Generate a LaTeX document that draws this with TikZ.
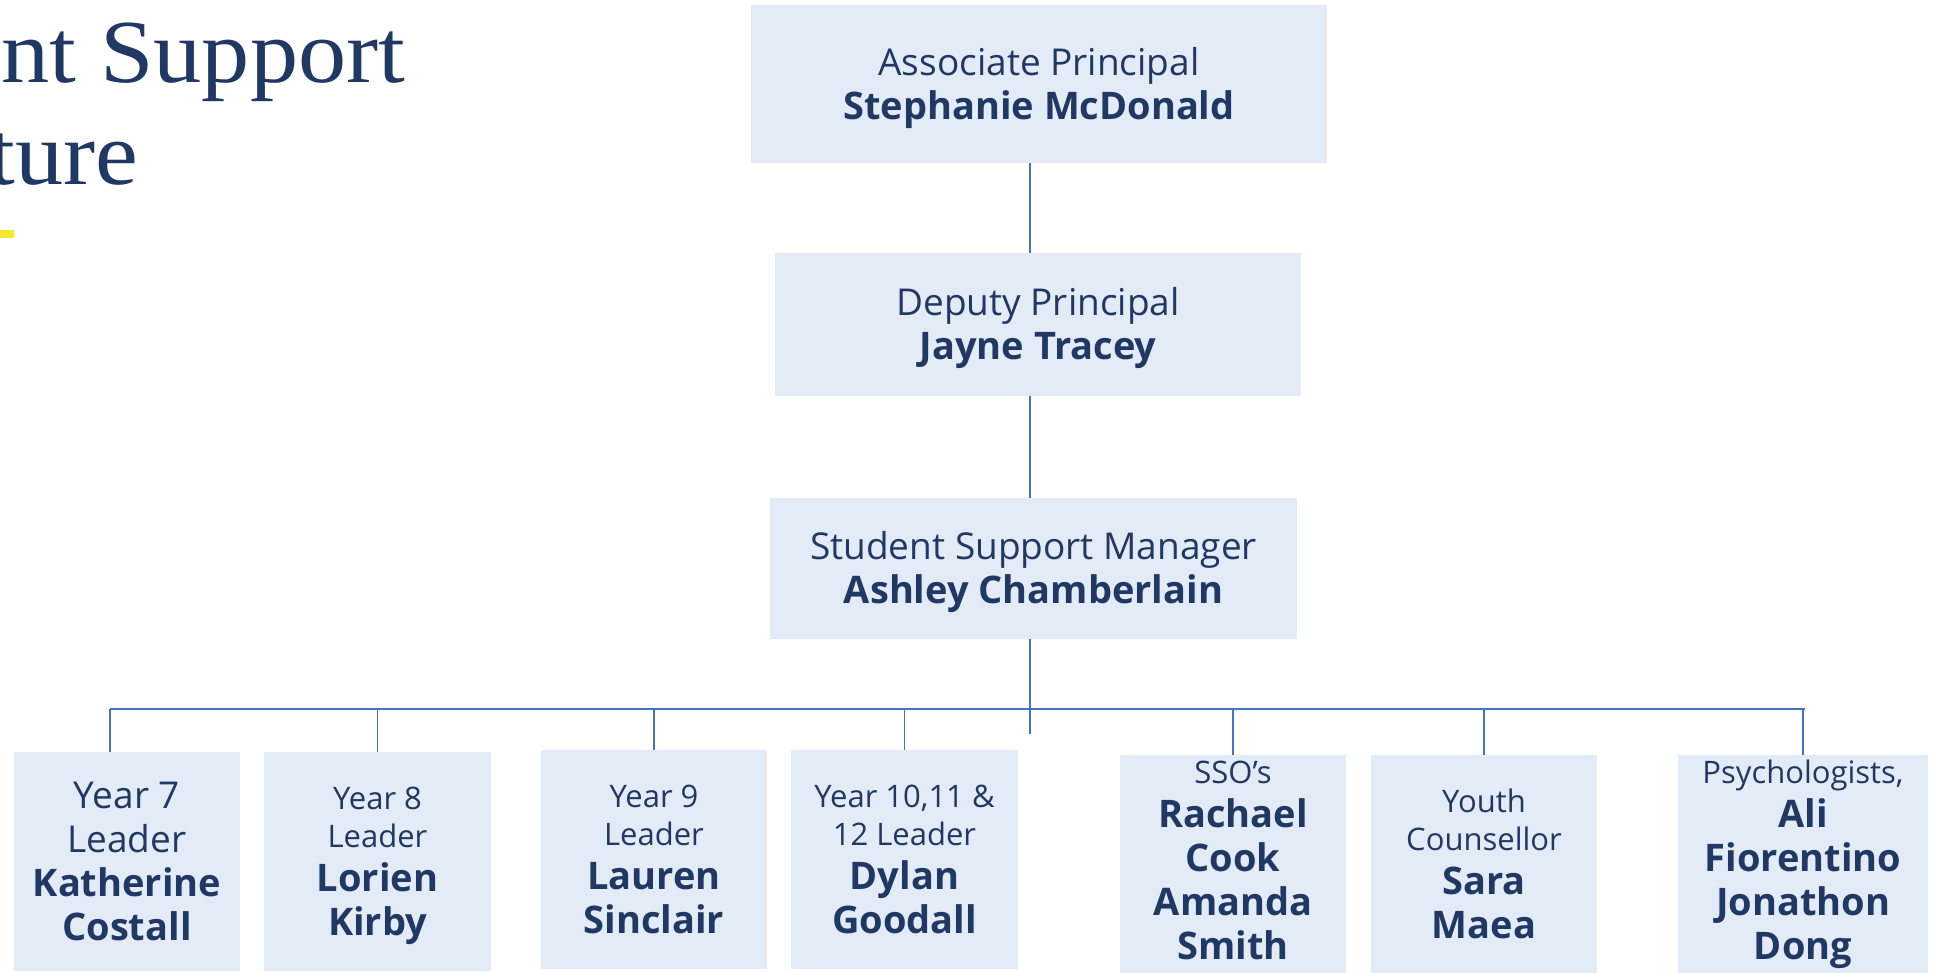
\documentclass[tikz,border=0pt]{standalone}
\usepackage{fontspec}
\setmainfont{Open Sans}
\newfontfamily\titlefont[FakeStretch=1.07]{Liberation Serif}
\usetikzlibrary{positioning}

\definecolor{navy}{HTML}{203864}
\definecolor{boxblue}{HTML}{E3EBF6}
\definecolor{linkblue}{HTML}{4472C4}
\definecolor{bar}{HTML}{F5E62E}

\newcommand{\rolebig}{\fontsize{18.5}{22}\selectfont}
\newcommand{\rolesmall}{\fontsize{15.5}{22}\selectfont}
\newcommand{\who}[1]{{\bfseries\fontsize{19}{22}\selectfont #1}}
\newcommand{\lift}[1]{\rule{0pt}{#1}}
\newcommand{\sink}[1]{\rule[-#1]{0pt}{0pt}}

\tikzset{
  post/.style={rectangle,fill=boxblue,text=navy,align=center,inner sep=0pt},
  link/.style={draw=linkblue,line width=0.75pt},
  heading/.style={anchor=base west,inner sep=0pt,text=navy,font=\titlefont\fontsize{45}{50}\selectfont}
}

\begin{document}
\begin{tikzpicture}[x=0.5pt,y=-0.5pt]
\useasboundingbox (0,0) rectangle (1934,973);
% title, cut at the left edge
\node[heading] (t1) at (1,83) {nt Support};
\node[heading] (t2) at (-12,185) {ture};
\fill[bar] (0,230) rectangle (14,238);
% top of the tree
\node[post,minimum width=288pt,minimum height=79pt,font=\rolebig] (ap) at (1039,84) {\lift{17.6pt}Associate Principal\\\who{Stephanie McDonald}};
\node[post,minimum width=263pt,minimum height=71.5pt,font=\rolebig] (dp) at (1038,324.5) {\lift{17.6pt}Deputy Principal\\\who{Jayne Tracey}};
\node[post,minimum width=263.5pt,minimum height=70.5pt,font=\rolebig] (ssm) at (1033.5,568.5) {\lift{17.6pt}Student Support Manager\\\who{Ashley Chamberlain}};
% staff row
\node[post,minimum width=113pt,minimum height=109.5pt,font=\rolebig] (yr7) at (127,861.5) {Year 7\\Leader\\\who{Katherine}\\\who{Costall}};
\node[post,minimum width=113.5pt,minimum height=109.5pt,font=\rolesmall] (yr8) at (377.5,861.5) {\lift{15.1pt}Year 8\\[-3pt]Leader\\\who{Lorien}\\\who{Kirby}};
\node[post,minimum width=113pt,minimum height=109.5pt,font=\rolesmall] (yr9) at (654,859.5) {Year 9\\[-3pt]Leader\\\who{Lauren}\\\who{Sinclair}};
\node[post,minimum width=113.5pt,minimum height=109.5pt,font=\rolesmall] (yr10) at (904.5,859.5) {Year 10,11 \&\\[-3pt]12 Leader\\\who{Dylan}\\\who{Goodall}};
\node[post,minimum width=113pt,minimum height=109pt,font=\rolesmall] (sso) at (1233,864) {SSO’s\\\who{Rachael}\\\who{Cook}\\\who{Amanda}\\\who{Smith}\sink{4pt}};
\node[post,minimum width=113pt,minimum height=109pt,font=\rolesmall] (yc) at (1484,864) {Youth\\[-3pt]Counsellor\\\who{Sara}\\\who{Maea}};
\node[post,minimum width=125pt,minimum height=109pt,font=\rolesmall] (psy) at (1803,864) {Psychologists,\\\who{Ali}\\\who{Fiorentino}\\\who{Jonathon}\\\who{Dong}};
% connectors
\coordinate (stem) at (1030,734);
\coordinate (barL) at (110,709);
\coordinate (barR) at (1805,709);
\draw[link] (ap.south -| stem) -- (dp.north -| stem);
\draw[link] (dp.south -| stem) -- (ssm.north -| stem);
\draw[link] (ssm.south -| stem) -- (stem);
\draw[link] (barL) -- (barR);
\draw[link] (barL) -- (yr7.north -| barL);
\foreach \n in {yr8,yr9,yr10,sso,yc,psy}
  \draw[link] (\n.north |- barL) -- (\n.north);
\end{tikzpicture}
\end{document}
